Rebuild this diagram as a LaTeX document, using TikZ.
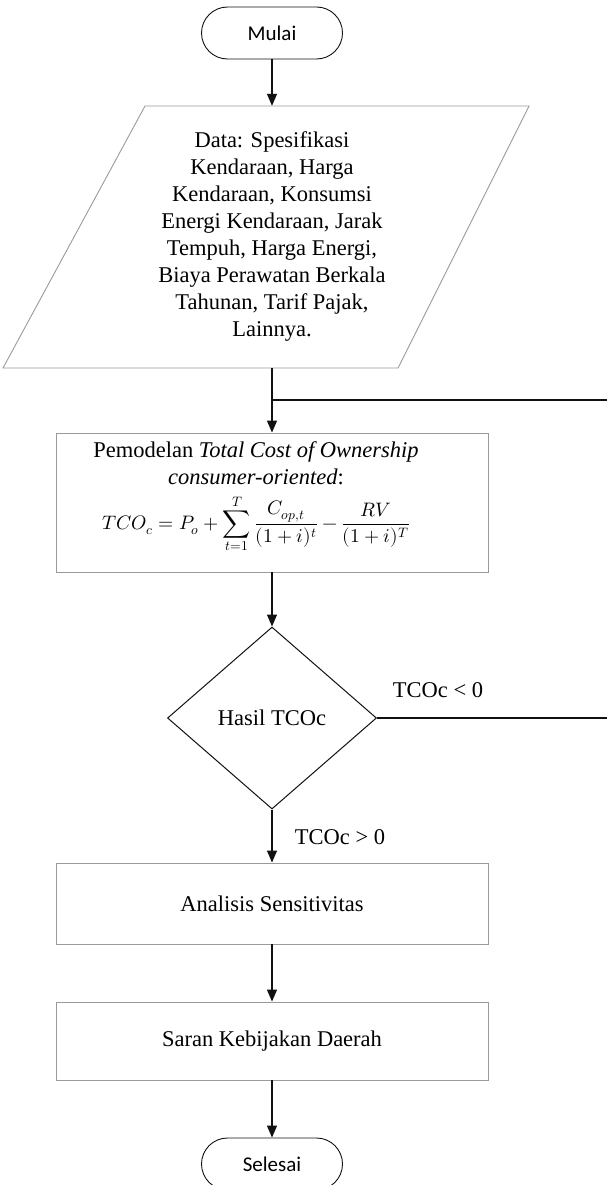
\documentclass[tikz,border=0pt]{standalone}
\usepackage{fontspec}
\usepackage{unicode-math}
\setmainfont{Liberation Serif}
\newfontfamily\calibri{Carlito}
\usetikzlibrary{arrows.meta,positioning,shapes.geometric}
\definecolor{boxgray}{HTML}{9A9A9A}
\definecolor{inkblack}{HTML}{111111}

\begin{document}
\begin{tikzpicture}[x=1pt,y=-1pt,
  font=\fontsize{22.5}{27}\selectfont,
  line/.style={inkblack,line width=1.3pt},
  arr/.style={line,-{Triangle[width=10pt,length=12pt]}},
  term/.style={draw=inkblack,line width=0.9pt,rounded corners=26pt,minimum width=141pt,minimum height=52pt,font=\calibri\fontsize{21}{25}\selectfont},
  procbox/.style={draw=boxgray,line width=0.9pt,minimum width=432pt,align=center,inner sep=0pt},
  decide/.style={diamond,draw=inkblack,line width=1pt,minimum width=209pt,minimum height=182pt,shape aspect=1.15,inner sep=0pt}]
\useasboundingbox (0,0) rectangle (607,1185);
\draw[boxgray,line width=0.9pt] (145,106) -- (529,106) -- (398,368) -- (3,368) -- cycle;
\node[term] (mulai) at (272,33) {Mulai};
\node[align=center,minimum height=262pt,inner sep=0pt] (data) at (272,237) {Data: Spesifikasi\\ Kendaraan, Harga\\ Kendaraan, Konsumsi\\ Energi Kendaraan, Jarak\\ Tempuh, Harga Energi,\\ Biaya Perawatan Berkala\\ Tahunan, Tarif Pajak,\\ Lainnya.};
\node[procbox,minimum height=139pt] (tco) at (272,502.5) {};
\node[align=center,inner sep=0pt] (tcotext) at ([xshift=-16pt,yshift=5pt]tco.center) {Pemodelan \textit{Total Cost of Ownership}\\ \textit{consumer-oriented}:\\[9pt]
  {\fontsize{19.5}{20}\selectfont $\displaystyle TCO_c = P_o + \sum_{t=1}^{T}\frac{C_{op,t}}{(1+i)^t} - \frac{RV}{(1+i)^T}$}};
\node[decide] (hasil) at (272,718) {Hasil TCOc};
\node[procbox,minimum height=81pt] (analisis) at (272,903.5) {Analisis Sensitivitas};
\node[procbox,minimum height=78pt] (saran) at (272,1041) {Saran Kebijakan Daerah};
\node[term] (selesai) at (272,1164) {Selesai};
\coordinate (join) at (272,400);
\coordinate (loopA) at (607,400);
\coordinate (loopB) at (607,718);
\draw[arr] (mulai.south) -- (data.north);
\draw[arr] (data.south) -- (tco.north);
\draw[line] (join) -- (loopA);
\draw[arr] (tco.south) -- (hasil.north);
\draw[line] (hasil.east) -- (loopB);
\draw[arr] (hasil.south) -- (analisis.north);
\draw[arr] (analisis.south) -- (saran.north);
\draw[arr] (saran.south) -- (selesai.north);
\node (kurang) at (438,690) {TCOc < 0};
\node (lebih) at (340,837) {TCOc > 0};
\end{tikzpicture}
\end{document}
